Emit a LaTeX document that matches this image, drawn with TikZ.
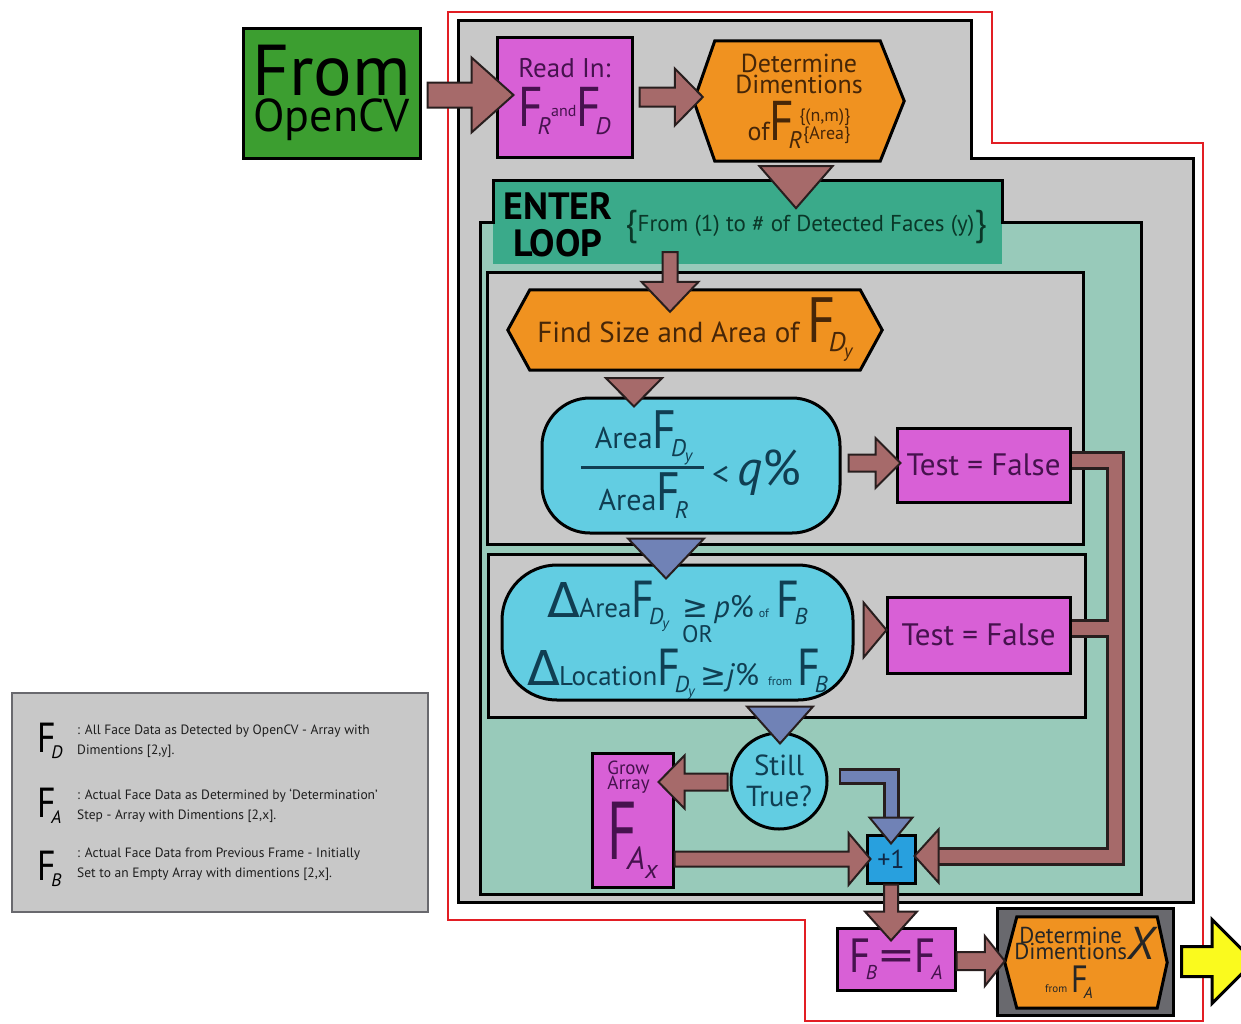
\documentclass[tikz,border=0pt]{standalone}
\usepackage{graphicx}
\usepackage{fontspec}
\setmainfont{PT Sans}
\newfontfamily\symfont{DejaVu Sans}
\usetikzlibrary{calc}

\definecolor{boxgray}{RGB}{200,200,200}
\definecolor{loopteal}{RGB}{152,202,186}
\definecolor{headteal}{RGB}{58,170,138}
\definecolor{stepmag}{RGB}{216,96,214}
\definecolor{steporange}{RGB}{240,146,32}
\definecolor{testcyan}{RGB}{98,205,226}
\definecolor{srcgreen}{RGB}{60,158,48}
\definecolor{arrowbrown}{RGB}{166,106,106}
\definecolor{arrowblue}{RGB}{112,130,182}
\definecolor{arrowedge}{RGB}{40,30,30}
\definecolor{countblue}{RGB}{40,160,222}
\definecolor{outyellow}{RGB}{250,250,30}
\definecolor{framered}{RGB}{226,30,36}
\definecolor{darkframe}{RGB}{105,105,110}
\definecolor{txtpurple}{RGB}{70,18,78}
\definecolor{txtbrown}{RGB}{70,38,8}
\definecolor{txtteal}{RGB}{16,62,82}
\definecolor{txtgreen}{RGB}{10,55,40}
\definecolor{txtnavy}{RGB}{16,40,70}
\definecolor{legendtext}{RGB}{30,30,30}

\pgfdeclarelayer{back}
\pgfdeclarelayer{shapes}
\pgfsetlayers{back,shapes,main}

\setlength\arrayrulewidth{3pt}

% big F with an italic subscript: size of F, size of subscript, subscript, drop
\newcommand\Fx[4]{{\fontsize{#1}{#1}\selectfont\scalebox{0.85}[1]{F}\kern-0.1em}\raisebox{-#4pt}{\fontsize{#2}{#2}\selectfont\itshape #3}}
% D with a lowered y: size of y, drop
\newcommand\Dy[2]{D\kern-0.05em\raisebox{-#2pt}{\fontsize{#1}{#1}\selectfont y}}
\newcommand\sizedtext[2]{{\fontsize{#1}{#1}\selectfont #2}}
\newcommand\Dtri{{\symfont\fontsize{48}{48}\selectfont Δ}}

% block arrow: style, start, tip, half shaft width, half head width, head length
\newcommand\blockarrow[6]{%
  \coordinate (ba-s) at (#2);
  \coordinate (ba-t) at (#3);
  \coordinate (ba-h) at ($(ba-t)!#6!(ba-s)$);
  \draw[#1] ($(ba-s)!#4!90:(ba-t)$) -- ($(ba-h)!#4!-90:(ba-s)$)
    -- ($(ba-h)!#5!-90:(ba-s)$) -- (ba-t) -- ($(ba-h)!#5!90:(ba-s)$)
    -- ($(ba-h)!#4!90:(ba-s)$) -- ($(ba-s)!#4!-90:(ba-t)$) -- cycle;}
% arrow head only: style, base centre, tip, half width
\newcommand\headarrow[4]{%
  \coordinate (ha-b) at (#2);
  \coordinate (ha-t) at (#3);
  \draw[#1] ($(ha-b)!#4!90:(ha-t)$) -- (ha-t) -- ($(ha-b)!#4!-90:(ha-t)$) -- cycle;}

\begin{document}
\begin{tikzpicture}[x=1pt,y=-1pt,
  outl/.style={draw=black,line width=3pt},
  srcbox/.style={outl,fill=srcgreen,inner sep=0pt,text=black},
  magbox/.style={outl,fill=stepmag,inner sep=0pt,text=txtpurple},
  cyanbox/.style={outl,fill=testcyan,inner sep=0pt,text=txtteal},
  hexarea/.style={inner sep=0pt,text=txtbrown},
  hexfill/.style={outl,fill=steporange,line join=miter},
  brownarrow/.style={fill=arrowbrown,draw=arrowedge,line width=2pt,line join=miter},
  bluearrow/.style={fill=arrowblue,draw=arrowedge,line width=2pt,line join=miter},
  yellowarrow/.style={fill=outyellow,draw=black,line width=3pt,line join=miter},
  legtext/.style={anchor=west,align=left,inner sep=0pt,text=legendtext,
    font={\fontsize{13.5}{20}\selectfont\lineskiplimit=-100pt}},
  legsym/.style={anchor=base west,inner sep=0pt,text=black},
]
\useasboundingbox (0,0) rectangle (1241,1023);
\clip (0,0) rectangle (1241,1023);

% ---------- containers ----------
\begin{pgfonlayer}{back}
  \fill[white] (0,0) rectangle (1241,1023);
  \draw[framered,line width=2.5pt] (448,12) -- (992,12) -- (992,143) -- (1203,143)
    -- (1203,1021) -- (805,1021) -- (805,920) -- (448,920) -- cycle;
  \draw[outl,fill=boxgray] (458,20) -- (971,20) -- (971,158) -- (1193,158)
    -- (1193,902) -- (458,902) -- cycle;
  \fill[loopteal] (480,222) rectangle (1141,894);
  \node[fill=headteal,inner sep=0pt,minimum width=509pt,minimum height=84pt] (loop) at (747.5,222) {};
  \draw[outl] (480,222) -- (493,222) -- (493,180) -- (1002,180) -- (1002,222)
    -- (1141,222) -- (1141,894) -- (480,894) -- cycle;
  \draw[outl,fill=boxgray] (487,272) rectangle (1083,544);
  \draw[outl,fill=boxgray] (488,554) rectangle (1085,717);
  \draw[draw=darkframe,line width=2pt,fill=boxgray] (12,693) rectangle (428,912);
  \node[outl,fill=darkframe,minimum width=176pt,minimum height=107pt] (detxbox) at (1085,961.5) {};
\end{pgfonlayer}

% ---------- steps ----------
\node[srcbox,minimum width=177pt,minimum height=130pt,align=center,
      font={\fontsize{46}{36}\selectfont\lineskiplimit=-100pt}] (opencv) at (331.5,93)
  {\sizedtext{72}{From}\\OpenCV};

\node[magbox,minimum width=135pt,minimum height=120pt,align=center,
      font={\fontsize{27}{49}\selectfont\lineskiplimit=-100pt}] (read) at (564.5,97)
  {Read In:\\\Fx{56}{24}{R}{8}\raisebox{10pt}{\sizedtext{16}{and}}\Fx{56}{24}{D}{8}};

\node[hexarea,minimum width=210pt,minimum height=120pt,align=center,
      font={\fontsize{26}{21}\selectfont\lineskiplimit=-100pt}] (det) at (799,101)
  {Determine\\Dimentions\\[26pt]of\Fx{56}{24}{R}{8}\kern-3pt\raisebox{1pt}{\lineskiplimit=0pt\fontsize{18}{16}\selectfont\begin{tabular}[b]{@{}r@{}}\{(n,m)\}\\\{Area\}\end{tabular}}};

\node[font={\bfseries\fontsize{38}{37}\selectfont\lineskiplimit=-100pt},align=center,inner sep=0pt] (enter) at (558,225) {ENTER\\LOOP};
\node[font=\fontsize{23}{23}\selectfont,text=txtgreen,inner sep=0pt,anchor=base west] (range) at (625,231)
  {\sizedtext{36}{\raisebox{-4pt}{\{}}From (1) to \# of Detected Faces (y)\sizedtext{36}{\raisebox{-4pt}{\}}}};

\node[hexarea,minimum width=374pt,minimum height=80pt,font=\fontsize{29}{29}\selectfont] (find) at (695,330)
  {Find Size and Area of\ \Fx{64}{27}{\Dy{19}{6}}{9}};

\node[cyanbox,rounded corners=48pt,minimum width=298pt,minimum height=135pt,font=\fontsize{30}{30}\selectfont] (cyan1) at (691,465.5)
  {\raisebox{-2pt}{\begin{tabular}{@{\hspace{14pt}}c@{\hspace{12pt}}}Area\Fx{54}{24}{\Dy{17}{5}}{8}\\[8pt]\hline\rule{0pt}{42pt}Area\Fx{54}{24}{R}{8}\end{tabular}}\kern8pt\raisebox{-16pt}{\sizedtext{34}{<}\kern8pt\sizedtext{50}{\textit{q}\%}}};

\node[magbox,minimum width=173pt,minimum height=74pt,font=\fontsize{31}{31}\selectfont] (tf1) at (983.5,465) {Test = False};

\node[cyanbox,rounded corners=55pt,minimum width=351pt,minimum height=135pt,align=center,
      font={\fontsize{24}{25}\selectfont\lineskiplimit=-100pt}] (cyan2) at (677.5,632.5)
  {\rule{0pt}{52pt}\Dtri\kern-1pt\sizedtext{27}{Area}\Fx{52}{23}{\Dy{15}{4}}{7}\hspace{14pt}\sizedtext{31}{{\symfont ≥}\,\textit{p}\%}\kern5pt\sizedtext{12}{of}\kern8pt\Fx{52}{23}{B}{7}\\
   \hspace*{40pt}OR\\[18pt]
   \Dtri\kern-1pt\sizedtext{27}{Location}\Fx{52}{23}{\Dy{15}{4}}{7}\hspace{6pt}\sizedtext{31}{{\symfont ≥}\textit{j}\%}\hspace{9pt}\sizedtext{12}{from}\kern5pt\Fx{52}{23}{B}{7}};

\node[magbox,minimum width=183pt,minimum height=76pt,font=\fontsize{31}{31}\selectfont] (tf2) at (978.5,635) {Test = False};

\node[cyanbox,circle,minimum size=96pt,align=center,
      font={\fontsize{29}{31}\selectfont\lineskiplimit=-100pt}] (still) at (779,781) {Still\\True?};

\node[magbox,minimum width=81pt,minimum height=134pt,align=left,
      font={\fontsize{19}{15}\selectfont\lineskiplimit=-100pt}] (grow) at (632.5,820)
  {Grow\\Array\\[55pt]{\fontsize{82}{82}\selectfont\scalebox{0.7}[1]{F}\kern-0.12em}\raisebox{-10pt}{\fontsize{32}{32}\selectfont\itshape A\raisebox{-9pt}{\fontsize{26}{26}\selectfont x}}};

\node[outl,fill=countblue,minimum size=48pt,inner sep=0pt,font=\fontsize{26}{26}\selectfont,text=txtnavy] (plus) at (891,859) {+1};

\node[magbox,minimum width=118pt,minimum height=62pt] (fbfa) at (896,959)
  {\Fx{48}{20}{B}{7}\kern2pt\sizedtext{48}{\scalebox{1.4}[1]{=}}\kern2pt\Fx{48}{20}{A}{7}};

\node[hexarea,text=black!85,minimum width=162pt,minimum height=91pt,align=center,
      font={\fontsize{23}{33}\selectfont\lineskiplimit=-100pt}] (detx) at (1086,962.5)
  {{\lineskiplimit=0pt\fontsize{23}{15.5}\selectfont\begin{tabular}[b]{@{}c@{}}\smash{Determine}\\\smash{Dimentions}\end{tabular}}\sizedtext{46}{\textit{X}}\\
   \hspace*{-34pt}\sizedtext{11}{from}\,\Fx{38}{16}{A}{6}};

% ---------- hexagonal step outlines ----------
\begin{pgfonlayer}{shapes}
  \draw[hexfill] (det.west) -- ($(det.north west)+(21,0)$) -- ($(det.north east)+(-24,0)$) -- (det.east)
    -- ($(det.south east)+(-24,0)$) -- ($(det.south west)+(21,0)$) -- cycle;
  \draw[hexfill] (find.west) -- ($(find.north west)+(22,0)$) -- ($(find.north east)+(-22,0)$) -- (find.east)
    -- ($(find.south east)+(-22,0)$) -- ($(find.south west)+(22,0)$) -- cycle;
  \draw[hexfill] (detx.west) -- ($(detx.north west)+(12,0)$) -- ($(detx.north east)+(-10,0)$) -- (detx.east)
    -- ($(detx.south east)+(-10,0)$) -- ($(detx.south west)+(12,0)$) -- cycle;
\end{pgfonlayer}

% ---------- legend ----------
\node[legsym] (legFD) at (37,752) {\Fx{42}{18}{D}{6}};
\node[legtext] (legTD) at (77,741.6) {: All Face Data as Detected by OpenCV - Array with\\Dimentions [2,y].};
\node[legsym] (legFA) at (37,817) {\Fx{42}{18}{A}{6}};
\node[legtext] (legTA) at (77,806) {: Actual Face Data as Determined by `Determination'\\Step - Array with Dimentions [2,x].};
\node[legsym] (legFB) at (37,880) {\Fx{42}{18}{B}{6}};
\node[legtext] (legTB) at (77,864) {: Actual Face Data from Previous Frame - Initially\\Set to an Empty Array with dimentions [2,x].};

% ---------- connectors ----------
\blockarrow{brownarrow}{$(opencv.east)+(6,2)$}{$(read.west)+(18,-2)$}{12.5pt}{37.5pt}{42pt}
\blockarrow{brownarrow}{$(read.east)+(6,0)$}{$(det.west)+(9,-4)$}{9.5pt}{28.5pt}{28pt}
\headarrow{brownarrow}{$(det.south)+(-3,5)$}{$(det.south)+(-3,47)$}{36.5pt}
\blockarrow{brownarrow}{$(loop.south)+(-77.5,-12)$}{$(find.north)+(-25,22)$}{7.5pt}{28.5pt}{30pt}
\headarrow{brownarrow}{$(find.south)+(-61,8)$}{$(cyan1.north)+(-57,10)$}{28pt}
\blockarrow{brownarrow}{$(cyan1.east)+(7,-2.5)$}{$(tf1.west)+(5,-2)$}{8.5pt}{25pt}{25pt}
\headarrow{bluearrow}{$(cyan1.south)+(-25,4)$}{$(cyan2.north)+(-11.5,15)$}{38pt}
\headarrow{brownarrow}{$(cyan2.east)+(9,-2.5)$}{$(tf2.west)+(1,-5)$}{27.5pt}
\headarrow{bluearrow}{$(cyan2.south)+(102.5,5)$}{$(still.north)+(1,12)$}{33pt}
\blockarrow{brownarrow}{$(still.west)+(-2,1)$}{$(grow.east)+(-16,-38)$}{8.5pt}{26.5pt}{26pt}
\blockarrow{brownarrow}{grow.east|-plus.west}{$(plus.west)+(5,0)$}{7.5pt}{26pt}{22pt}

% still true: bent arrow down into the counter
\draw[arrowedge,line width=17pt] ($(still.east)+(10,-5)$) -| ($(plus.north)+(0,-14)$);
\draw[arrowblue,line width=11pt] ($(still.east)+(12,-5)$) -| ($(plus.north)+(0,-14)$);
\headarrow{bluearrow}{$(plus.north)+(0,-16)$}{$(plus.north)+(0,10)$}{21.5pt}

% both failed tests return to the counter
\coordinate (collect) at ($(plus.east)+(199,-3)$);
\draw[arrowedge,line width=19pt] ($(tf1.east)+(0,-4.5)$) -| (collect) -- ($(plus.east)+(22,-3)$);
\draw[arrowedge,line width=19pt] ($(tf2.east)+(0,-7)$) -- ($(tf2.east -| collect)+(0,-7)$);
\draw[arrowbrown,line width=13pt] ($(tf1.east)+(0,-4.5)$) -| (collect) -- ($(plus.east)+(22,-3)$);
\draw[arrowbrown,line width=13pt] ($(tf2.east)+(0,-7)$) -- ($(tf2.east -| collect)+(0,-7)$);
\headarrow{brownarrow}{$(plus.east)+(22,-3)$}{$(plus.east)+(-2,-3)$}{26.5pt}

\blockarrow{brownarrow}{plus.south}{$(fbfa.north)+(-5,14)$}{7pt}{26pt}{29pt}
\blockarrow{brownarrow}{$(fbfa.east)+(0,2)$}{$(detx.west)+(0,-1.5)$}{9pt}{25pt}{20pt}

\coordinate (out) at (1254,961.5);
\blockarrow{yellowarrow}{$(detxbox.east)+(7,0)$}{out}{15pt}{42pt}{42pt}
\end{tikzpicture}
\end{document}
